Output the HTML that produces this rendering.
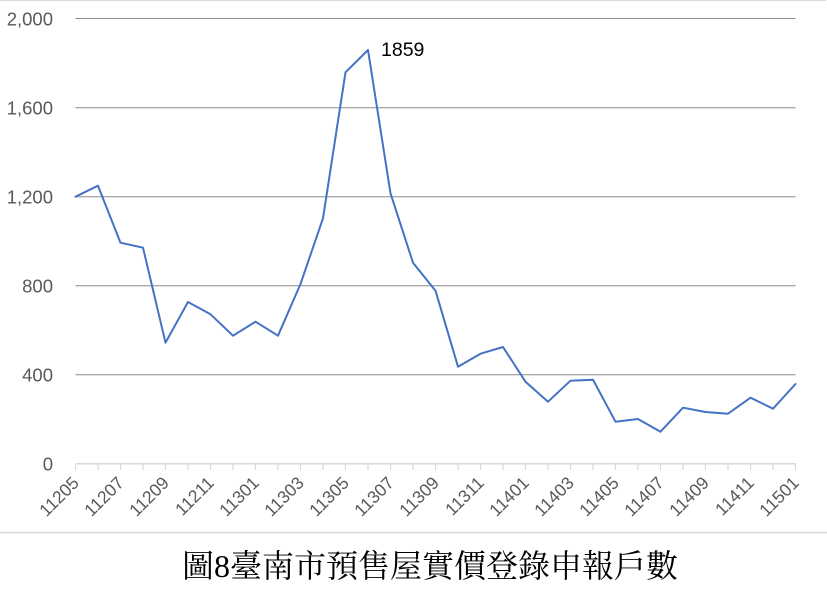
<!DOCTYPE html>
<html>
<head>
<meta charset="utf-8">
<style>
  html, body { margin:0; padding:0; background:#fff; }
  svg { display:block; }
</style>
</head>
<body>
<svg width="827" height="599" viewBox="0 0 827 599" xmlns="http://www.w3.org/2000/svg">
  <rect x="0" y="0" width="827" height="599" fill="#fff"/>
  <line x1="0" y1="0.5" x2="826" y2="0.5" stroke="#d9d9d9" stroke-width="1"/>
  <line x1="0" y1="532.5" x2="827" y2="532.5" stroke="#d9d9d9" stroke-width="1.5"/>

  <!-- gridlines -->
  <g stroke="#8c8c8c" stroke-width="1">
    <line x1="75.5" y1="18.5" x2="795.5" y2="18.5"/>
    <line x1="75.5" y1="107.8" x2="795.5" y2="107.8"/>
    <line x1="75.5" y1="196.8" x2="795.5" y2="196.8"/>
    <line x1="75.5" y1="285.8" x2="795.5" y2="285.8"/>
    <line x1="75.5" y1="374.8" x2="795.5" y2="374.8"/>
  </g>
  <!-- axis -->
  <line x1="75.5" y1="463.8" x2="795.5" y2="463.8" stroke="#d9d9d9" stroke-width="1.5"/>
  <g stroke="#d9d9d9" stroke-width="1.2">
    <line x1="75.5" y1="464" x2="75.5" y2="470"/><line x1="98" y1="464" x2="98" y2="470"/>
    <line x1="120.5" y1="464" x2="120.5" y2="470"/><line x1="143" y1="464" x2="143" y2="470"/>
    <line x1="165.5" y1="464" x2="165.5" y2="470"/><line x1="188" y1="464" x2="188" y2="470"/>
    <line x1="210.5" y1="464" x2="210.5" y2="470"/><line x1="233" y1="464" x2="233" y2="470"/>
    <line x1="255.5" y1="464" x2="255.5" y2="470"/><line x1="278" y1="464" x2="278" y2="470"/>
    <line x1="300.5" y1="464" x2="300.5" y2="470"/><line x1="323" y1="464" x2="323" y2="470"/>
    <line x1="345.5" y1="464" x2="345.5" y2="470"/><line x1="368" y1="464" x2="368" y2="470"/>
    <line x1="390.5" y1="464" x2="390.5" y2="470"/><line x1="413" y1="464" x2="413" y2="470"/>
    <line x1="435.5" y1="464" x2="435.5" y2="470"/><line x1="458" y1="464" x2="458" y2="470"/>
    <line x1="480.5" y1="464" x2="480.5" y2="470"/><line x1="503" y1="464" x2="503" y2="470"/>
    <line x1="525.5" y1="464" x2="525.5" y2="470"/><line x1="548" y1="464" x2="548" y2="470"/>
    <line x1="570.5" y1="464" x2="570.5" y2="470"/><line x1="593" y1="464" x2="593" y2="470"/>
    <line x1="615.5" y1="464" x2="615.5" y2="470"/><line x1="638" y1="464" x2="638" y2="470"/>
    <line x1="660.5" y1="464" x2="660.5" y2="470"/><line x1="683" y1="464" x2="683" y2="470"/>
    <line x1="705.5" y1="464" x2="705.5" y2="470"/><line x1="728" y1="464" x2="728" y2="470"/>
    <line x1="750.5" y1="464" x2="750.5" y2="470"/><line x1="773" y1="464" x2="773" y2="470"/>
    <line x1="795.5" y1="464" x2="795.5" y2="470"/>
  </g>

  <!-- y labels -->
  <g font-family="Liberation Sans, sans-serif" font-size="18.5" fill="#595959" text-anchor="end">
    <text x="53" y="25.3">2,000</text>
    <text x="53" y="114.5">1,600</text>
    <text x="53" y="203.5">1,200</text>
    <text x="53" y="292.5">800</text>
    <text x="53" y="381.5">400</text>
    <text x="53" y="470.5">0</text>
  </g>

  <!-- x labels -->
  <g font-family="Liberation Sans, sans-serif" font-size="17.5" fill="#595959" text-anchor="end">
    <text transform="translate(80,484) rotate(-45)">11205</text>
    <text transform="translate(125,484) rotate(-45)">11207</text>
    <text transform="translate(170,484) rotate(-45)">11209</text>
    <text transform="translate(215,484) rotate(-45)">11211</text>
    <text transform="translate(260,484) rotate(-45)">11301</text>
    <text transform="translate(305,484) rotate(-45)">11303</text>
    <text transform="translate(350,484) rotate(-45)">11305</text>
    <text transform="translate(395,484) rotate(-45)">11307</text>
    <text transform="translate(440,484) rotate(-45)">11309</text>
    <text transform="translate(485,484) rotate(-45)">11311</text>
    <text transform="translate(530,484) rotate(-45)">11401</text>
    <text transform="translate(575,484) rotate(-45)">11403</text>
    <text transform="translate(620,484) rotate(-45)">11405</text>
    <text transform="translate(665,484) rotate(-45)">11407</text>
    <text transform="translate(710,484) rotate(-45)">11409</text>
    <text transform="translate(755,484) rotate(-45)">11411</text>
    <text transform="translate(800,484) rotate(-45)">11501</text>
  </g>

  <!-- series -->
  <polyline fill="none" stroke="#4472c4" stroke-width="2" stroke-linejoin="round" stroke-linecap="round"
    points="75.5,196.7 98,185.7 120.5,242.7 143,247.7 165.5,342.7 188,302 210.5,314.3 233,335.7 255.5,321.7 278,335.7 300.5,284 323,218.3 345.5,72.3 368,50 390.5,193.3 413,262.7 435.5,290.7 458,366.7 480.5,353.7 503,347 525.5,381.7 548,401.7 570.5,380.7 593,379.7 615.5,421.7 638,419 660.5,431.7 683,407.7 705.5,412 728,413.7 750.5,397.7 773,408.7 795.5,384"/>

  <text x="381" y="56" font-family="Liberation Sans, sans-serif" font-size="19.5" fill="#000">1859</text>

  <!-- title -->
  <text x="430" y="577" text-anchor="middle" font-family="Liberation Serif, Noto Serif CJK SC, serif" font-size="32" fill="#000">圖8臺南市預售屋實價登錄申報戶數</text>
</svg>
</body>
</html>
